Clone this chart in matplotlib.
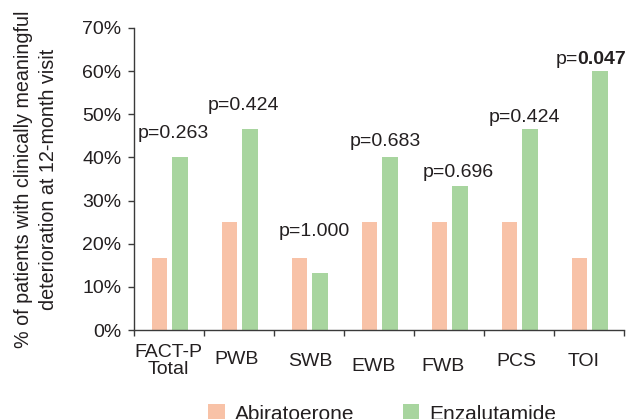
import matplotlib
matplotlib.use('Agg')
import matplotlib.pyplot as plt
import matplotlib.transforms as mtransforms
import numpy as np

plt.rcParams['font.family'] = ['Liberation Sans', 'DejaVu Sans']

categories = ['FACT-P\nTotal', 'PWB', 'SWB', 'EWB', 'FWB', 'PCS', 'TOI']
abiraterone = [16.7, 25.0, 16.7, 25.0, 25.0, 25.0, 16.7]
enzalutamide = [40.0, 46.7, 13.3, 40.0, 33.3, 46.7, 60.0]
p_values = ['0.263', '0.424', '1.000', '0.683', '0.696', '0.424', '0.047']
significant = [False, False, False, False, False, False, True]

text_col = '#231f20'
axis_col = '#3a3a3a'
orange = '#f8c2a7'
green = '#a8d59f'

fig = plt.figure(figsize=(6.29, 4.19), dpi=100)
ax = fig.add_axes([0.2138, 0.2124, 0.779, 0.7208])

x = np.arange(len(categories))
w = 0.22
ax.bar(x - 0.139, abiraterone, w, color=orange, label='Abiratoerone')
ax.bar(x + 0.150, enzalutamide, w, color=green, label='Enzalutamide')

# p-value labels: gap above the taller bar (in %) and horizontal nudge (in categories)
p_gap = [4.6, 4.4, 5.0, 2.6, 2.1, 1.6, 1.6]
p_dx = [0.06, 0.06, 0.07, 0.09, 0.12, 0.07, -0.17]
for i, (a, e, p, sig) in enumerate(zip(abiraterone, enzalutamide, p_values, significant)):
    y = max(a, e) + p_gap[i]
    if sig:
        ax.text(i + p_dx[i], y, 'p=', ha='right', va='baseline', fontsize=14, color=text_col)
        ax.text(i + p_dx[i], y, p, ha='left', va='baseline', fontsize=14,
                color=text_col, fontweight='bold')
    else:
        ax.text(i + p_dx[i], y, 'p=' + p, ha='center', va='baseline', fontsize=14,
                color=text_col)

ax.set_xlim(-0.5, len(categories) - 0.5)
ax.set_ylim(0, 70)
ax.set_yticks(np.arange(0, 71, 10))
ax.set_yticklabels([f'{v}%' for v in range(0, 71, 10)])

# major ticks between categories, labels on minor ticks
ax.set_xticks(np.arange(-0.5, len(categories), 1.0))
ax.set_xticklabels([])
ax.set_xticks(x, minor=True)
ax.set_xticklabels(categories, minor=True)
ax.tick_params(axis='x', which='minor', length=0, pad=10, labelsize=14, labelcolor=text_col)
ax.tick_params(axis='x', which='major', length=4, width=1, color=axis_col, direction='out')
ax.tick_params(axis='y', length=4.5, width=1, color=axis_col, pad=5, labelsize=14,
               labelcolor=text_col)

# staggered category labels (pixel offsets)
shifts = [(-1, 0), (-2.5, -7), (1, -9), (-6, -14), (-6, -14), (-3, -9), (-6, -9)]
for lab, (dx, dy) in zip(ax.get_xticklabels(minor=True), shifts):
    lab.set_linespacing(1.0)
    lab.set_transform(lab.get_transform() +
                      mtransforms.ScaledTranslation(dx / 100, dy / 100, fig.dpi_scale_trans))

for s in ['top', 'right']:
    ax.spines[s].set_visible(False)
for s in ['left', 'bottom']:
    ax.spines[s].set_color(axis_col)
    ax.spines[s].set_linewidth(1)

ax.set_ylabel('% of patients with clinically meaningful\ndeterioration at 12-month visit',
              fontsize=14.2, color=text_col, labelpad=17.5, linespacing=1.35)

fig.legend(loc='center', bbox_to_anchor=(0.608, 0.012), ncol=2, frameon=False,
           fontsize=15, handlelength=0.8, handleheight=0.8, handletextpad=0.5,
           columnspacing=2.3, labelcolor=text_col)

fig.savefig('out.png', dpi=100)
